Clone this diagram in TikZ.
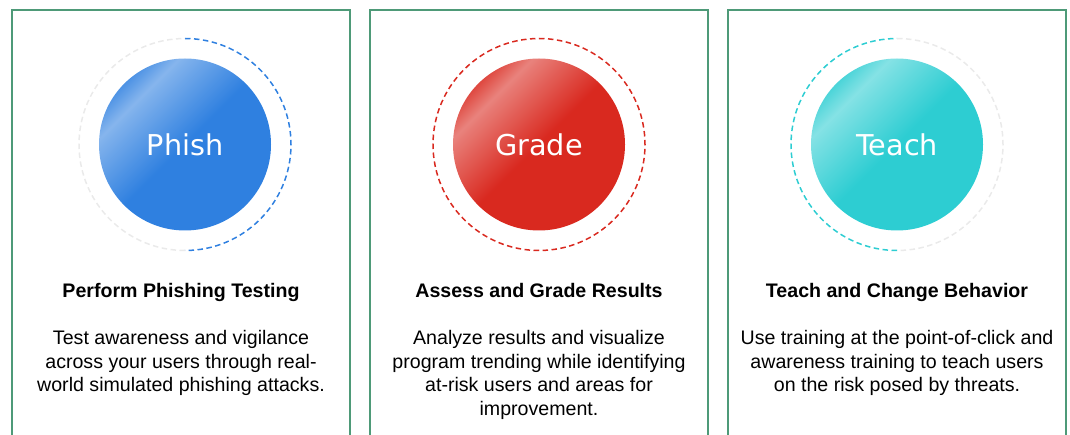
\documentclass[tikz,border=0pt]{standalone}
\usepackage{fontspec}
\setmainfont{Liberation Sans}
\newfontfamily\discfont{DejaVu Sans}
\usetikzlibrary{positioning,calc}

\definecolor{phishblue}{HTML}{2F80E0}
\definecolor{gradered}{HTML}{D9291F}
\definecolor{teachteal}{HTML}{2DCDD2}
\definecolor{panelgreen}{HTML}{4E9A78}
\definecolor{ringgray}{HTML}{EAEAEA}
\colorlet{glossbase}{phishblue}

% glossy highlight across the upper left of each disc
\pgfdeclarehorizontalshading[glossbase]{gloss}{100bp}{color(0bp)=(glossbase!85!white); color(25bp)=(glossbase!85!white); color(31bp)=(glossbase!58!white); color(32.5bp)=(glossbase!62!white); color(50bp)=(glossbase); color(100bp)=(glossbase)}

\begin{document}
\begin{tikzpicture}[x=1pt, y=-1pt,
    panel/.style={draw=panelgreen, line width=1.4pt},
    ring/.style={line width=1.5pt, dash pattern=on 5.5pt off 3.5pt},
    disc/.style={circle, minimum size=172pt, inner sep=0pt, shade, shading=gloss, shading angle=-45, text=white, font=\discfont\fontsize{28.7}{34}\selectfont},
    heading/.style={anchor=base, inner sep=0pt, font=\bfseries\fontsize{19.6}{23}\selectfont},
    blurb/.style={anchor=north, inner sep=0pt, align=center, font=\fontsize{19.6}{23.5}\selectfont}]
    \useasboundingbox (0,0) rectangle (1070,435);

    % Panels, discs, rings and texts
    \foreach \px/\cx/\nm/\col/\oth/\st/\lbl/\head/\txt in {
        181/185/phish/phishblue/ringgray/-90/Phish/{Perform Phishing Testing}/{Test awareness and vigilance\\across your users through real-\\world simulated phishing attacks.},
        539/539/grade/gradered/gradered/-90/Grade/{Assess and Grade Results}/{Analyze results and visualize\\program trending while identifying\\at-risk users and areas for\\improvement.},
        897/897/teach/teachteal/ringgray/90/Teach/{Teach and Change Behavior}/{Use training at the point-of-click and\\awareness training to teach users\\on the risk posed by threats.}} {
        \draw[panel] (\px-169,437) |- (\px+169,10) -- (\px+169,437);
        \colorlet{glossbase}{\col}
        \node[disc] (circ-\nm) at (\cx,144.5) {\lbl};
        \draw[ring, \col] (circ-\nm.center) ++(\st:106) arc[start angle=\st, delta angle=180, radius=106];
        \draw[ring, \oth] (circ-\nm.center) ++(\st+180:106) arc[start angle=\st+180, delta angle=180, radius=106];
        \node[heading] (head-\nm) at (\px,298) {\head};
        \node[blurb] (text-\nm) at (\px,330.5) {\txt};
    }
\end{tikzpicture}
\end{document}
